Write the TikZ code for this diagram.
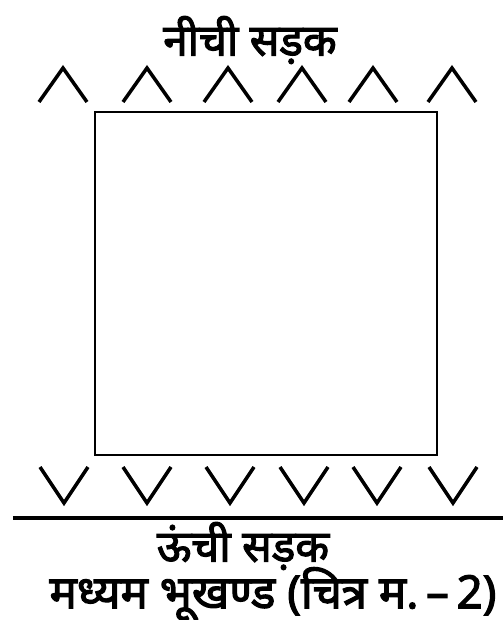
\documentclass[tikz,border=0pt]{standalone}
\usepackage{fontspec}
\newfontfamily\devfont[Script=Devanagari, FakeBold=2.5]{Noto Sans}
\usepackage{tikz}

\begin{document}
\begin{tikzpicture}[
    plot/.style={draw, line width=1.3pt},
    road/.style={line width=2pt},
    slopemark/.style={line width=2pt, line join=miter},
    every node/.style={font=\devfont\fontsize{25}{28}\selectfont, inner sep=0pt}
]
\useasboundingbox (0,0) rectangle (10.06,12.4);

% the plot itself
\draw[plot] (1.9,3.3) rectangle (8.74,10.16);

% slope marks on the low side
\foreach \x in {1.26, 2.94, 4.56, 6.04, 7.46, 9.04}
    \draw[slopemark] (\x-0.48,10.36) -- (\x,11.04) -- (\x+0.48,10.36);

% slope marks on the high side
\foreach \x in {1.28, 2.94, 4.6, 6.08, 7.54, 9.06}
    \draw[slopemark] (\x-0.48,3.06) -- (\x,2.34) -- (\x+0.48,3.06);

\draw[road] (0.26,2.04) -- (10.06,2.04);

\node (low) at (5.0,11.6) {नीची सड़क};
\node (high) at (4.86,1.48) {ऊंची सड़क};
\node[font=\devfont\fontsize{26}{29}\selectfont] (caption) at (5.46,0.52) {मध्यम भूखण्ड (चित्र म.\,–\,2)};
\end{tikzpicture}
\end{document}
